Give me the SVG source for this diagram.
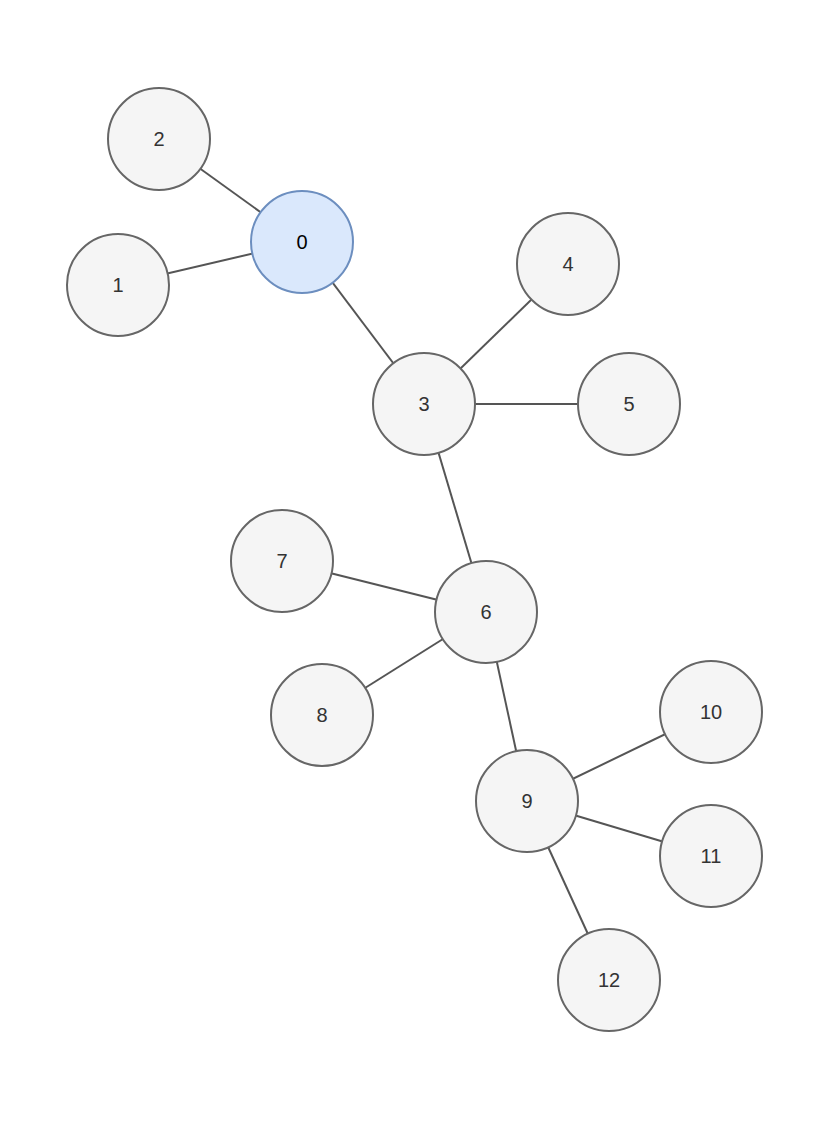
<svg xmlns="http://www.w3.org/2000/svg" width="831" height="1124" viewBox="0 0 831 1124">
<style>
.n{fill:#f5f5f5;stroke:#666666;stroke-width:2}
.b{fill:#dae8fc;stroke:#6c8ebf;stroke-width:2}
text{font-family:"Liberation Sans",Arial,sans-serif;font-size:20px;fill:#333333;text-anchor:middle;dominant-baseline:central}
.e line{stroke:#555555;stroke-width:2}
</style>
<rect width="831" height="1124" fill="#ffffff"/>
<g id="edges" class="e">
<line x1="302" y1="242" x2="159" y2="139"/>
<line x1="302" y1="242" x2="118" y2="285"/>
<line x1="302" y1="242" x2="424" y2="404"/>
<line x1="424" y1="404" x2="568" y2="264"/>
<line x1="424" y1="404" x2="629" y2="404"/>
<line x1="424" y1="404" x2="486" y2="612"/>
<line x1="486" y1="612" x2="282" y2="561"/>
<line x1="486" y1="612" x2="322" y2="715"/>
<line x1="486" y1="612" x2="527" y2="801"/>
<line x1="527" y1="801" x2="711" y2="712"/>
<line x1="527" y1="801" x2="711" y2="856"/>
<line x1="527" y1="801" x2="609" y2="980"/>
</g>
<g id="n0"><circle class="b" cx="302" cy="242" r="51"/><text x="302" y="242" style="fill:#000">0</text></g>
<g id="n1"><circle class="n" cx="118" cy="285" r="51"/><text x="118" y="285">1</text></g>
<g id="n2"><circle class="n" cx="159" cy="139" r="51"/><text x="159" y="139">2</text></g>
<g id="n3"><circle class="n" cx="424" cy="404" r="51"/><text x="424" y="404">3</text></g>
<g id="n4"><circle class="n" cx="568" cy="264" r="51"/><text x="568" y="264">4</text></g>
<g id="n5"><circle class="n" cx="629" cy="404" r="51"/><text x="629" y="404">5</text></g>
<g id="n6"><circle class="n" cx="486" cy="612" r="51"/><text x="486" y="612">6</text></g>
<g id="n7"><circle class="n" cx="282" cy="561" r="51"/><text x="282" y="561">7</text></g>
<g id="n8"><circle class="n" cx="322" cy="715" r="51"/><text x="322" y="715">8</text></g>
<g id="n9"><circle class="n" cx="527" cy="801" r="51"/><text x="527" y="801">9</text></g>
<g id="n10"><circle class="n" cx="711" cy="712" r="51"/><text x="711" y="712">10</text></g>
<g id="n11"><circle class="n" cx="711" cy="856" r="51"/><text x="711" y="856">11</text></g>
<g id="n12"><circle class="n" cx="609" cy="980" r="51"/><text x="609" y="980">12</text></g>
</svg>
